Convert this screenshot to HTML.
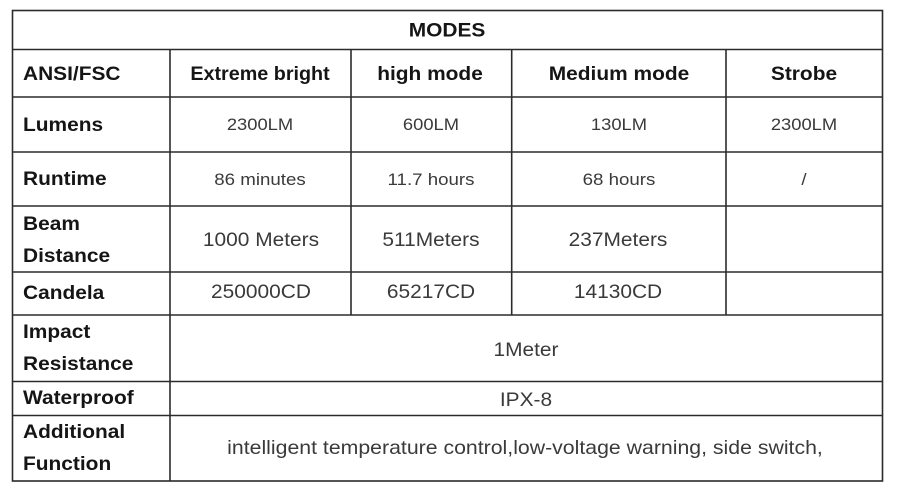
<!DOCTYPE html>
<html>
<head>
<meta charset="utf-8">
<style>
  html,body{margin:0;padding:0;background:#fff;}
  svg{display:block;}
  .h{font-family:"Liberation Sans",Arial,sans-serif;font-weight:bold;font-size:19px;fill:#151515;}
  .b{font-family:"Liberation Sans",Arial,sans-serif;font-size:19px;fill:#3a3a3a;}
  .s{font-family:"Liberation Sans",Arial,sans-serif;font-size:17px;fill:#3a3a3a;}
</style>
</head>
<body>
<svg width="897" height="492" viewBox="0 0 897 492" xmlns="http://www.w3.org/2000/svg">
  <rect width="897" height="492" fill="#fff"/>
  <g stroke="#2b2b2b" stroke-width="1.6" fill="none">
    <rect x="12.5" y="10.5" width="870" height="470.5"/>
    <line x1="12.5" y1="49.5" x2="882.5" y2="49.5"/>
    <line x1="12.5" y1="97" x2="882.5" y2="97"/>
    <line x1="12.5" y1="152" x2="882.5" y2="152"/>
    <line x1="12.5" y1="206" x2="882.5" y2="206"/>
    <line x1="12.5" y1="272" x2="882.5" y2="272"/>
    <line x1="12.5" y1="315" x2="882.5" y2="315"/>
    <line x1="12.5" y1="381.5" x2="882.5" y2="381.5"/>
    <line x1="12.5" y1="415.5" x2="882.5" y2="415.5"/>
    <line x1="170" y1="49.5" x2="170" y2="481"/>
    <line x1="351" y1="49.5" x2="351" y2="315"/>
    <line x1="511.7" y1="49.5" x2="511.7" y2="315"/>
    <line x1="726" y1="49.5" x2="726" y2="315"/>
  </g>

  <!-- title -->
  <text class="h" text-anchor="middle" transform="translate(447,36.5) scale(1.1,1)">MODES</text>

  <!-- header row -->
  <text class="h" transform="translate(23,80) scale(1.1,1)">ANSI/FSC</text>
  <text class="h" text-anchor="middle" transform="translate(260,80) scale(1.04,1)">Extreme bright</text>
  <text class="h" text-anchor="middle" transform="translate(430,80) scale(1.1,1)">high mode</text>
  <text class="h" text-anchor="middle" transform="translate(619,80) scale(1.1,1)">Medium mode</text>
  <text class="h" text-anchor="middle" transform="translate(804,80) scale(1.1,1)">Strobe</text>

  <!-- left labels -->
  <text class="h" transform="translate(23,131) scale(1.1,1)">Lumens</text>
  <text class="h" transform="translate(23,185) scale(1.1,1)">Runtime</text>
  <text class="h" transform="translate(23,230) scale(1.1,1)">Beam</text>
  <text class="h" transform="translate(23,262) scale(1.1,1)">Distance</text>
  <text class="h" transform="translate(23,299) scale(1.1,1)">Candela</text>
  <text class="h" transform="translate(23,338) scale(1.1,1)">Impact</text>
  <text class="h" transform="translate(23,370) scale(1.1,1)">Resistance</text>
  <text class="h" transform="translate(23,404) scale(1.1,1)">Waterproof</text>
  <text class="h" transform="translate(23,438) scale(1.1,1)">Additional</text>
  <text class="h" transform="translate(23,470) scale(1.1,1)">Function</text>

  <!-- Lumens -->
  <text class="s" text-anchor="middle" transform="translate(260,130) scale(1.08,1)">2300LM</text>
  <text class="s" text-anchor="middle" transform="translate(431,130) scale(1.08,1)">600LM</text>
  <text class="s" text-anchor="middle" transform="translate(619,130) scale(1.08,1)">130LM</text>
  <text class="s" text-anchor="middle" transform="translate(804,130) scale(1.08,1)">2300LM</text>

  <!-- Runtime -->
  <text class="s" text-anchor="middle" transform="translate(260,185) scale(1.1,1)">86 minutes</text>
  <text class="s" text-anchor="middle" transform="translate(431,185) scale(1.1,1)">11.7 hours</text>
  <text class="s" text-anchor="middle" transform="translate(619,185) scale(1.1,1)">68 hours</text>
  <text class="s" text-anchor="middle" transform="translate(804,185) scale(1.1,1)">/</text>

  <!-- Beam distance -->
  <text class="b" text-anchor="middle" transform="translate(261,246) scale(1.1,1)">1000 Meters</text>
  <text class="b" text-anchor="middle" transform="translate(431,246) scale(1.1,1)">511Meters</text>
  <text class="b" text-anchor="middle" transform="translate(618,246) scale(1.1,1)">237Meters</text>

  <!-- Candela -->
  <text class="b" text-anchor="middle" transform="translate(261,298) scale(1.1,1)">250000CD</text>
  <text class="b" text-anchor="middle" transform="translate(431,298) scale(1.1,1)">65217CD</text>
  <text class="b" text-anchor="middle" transform="translate(618,298) scale(1.1,1)">14130CD</text>

  <!-- merged rows -->
  <text class="b" text-anchor="middle" transform="translate(526,356) scale(1.1,1)">1Meter</text>
  <text class="b" text-anchor="middle" transform="translate(526,406) scale(1.1,1)">IPX-8</text>
  <text class="b" text-anchor="middle" transform="translate(525,454) scale(1.12,1)">intelligent temperature control,low-voltage warning, side switch,</text>
</svg>
</body>
</html>
